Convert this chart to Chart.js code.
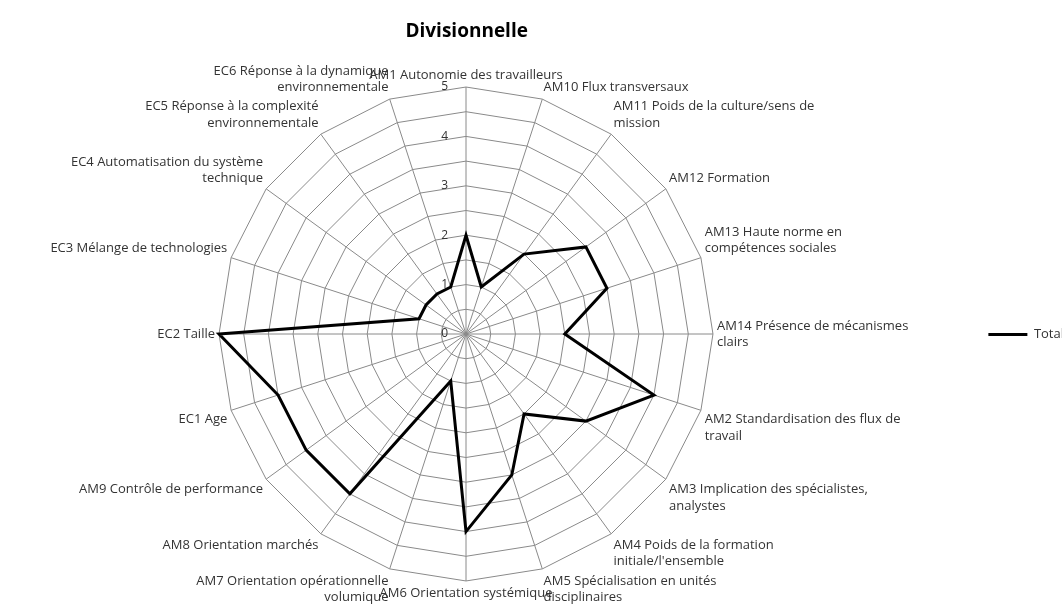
<!DOCTYPE html>
<html>
<head>
<meta charset="utf-8">
<title>Divisionnelle</title>
<script src="https://cdn.jsdelivr.net/npm/chart.js@4"></script>
<style>
    html, body { margin: 0; padding: 0; overflow: hidden; background: #fff; }
    body { width: 1062px; height: 616px; position: relative; }
    /* le canvas déborde un peu à gauche pour laisser de la place aux étiquettes de droite */
    #wrap { position: absolute; left: -38px; top: 0; width: 1112px; height: 616px; }
</style>
</head>
<body>
<div id="wrap"><canvas id="radar"></canvas></div>
<script>
// Axes du radar (sens horaire depuis le haut)
const categories = [
    'AM1 Autonomie des travailleurs',
    'AM10 Flux transversaux',
    ['AM11 Poids de la culture/sens de', 'mission'],
    'AM12 Formation',
    ['AM13 Haute norme en', 'compétences sociales'],
    ['AM14 Présence de mécanismes', 'clairs'],
    ['AM2 Standardisation des flux de', 'travail'],
    ['AM3 Implication des spécialistes,', 'analystes'],
    ['AM4 Poids de la formation', "initiale/l'ensemble"],
    ['AM5 Spécialisation en unités', 'disciplinaires'],
    'AM6 Orientation systémique',
    ['AM7 Orientation opérationnelle', 'volumique'],
    'AM8 Orientation marchés',
    'AM9 Contrôle de performance',
    'EC1 Age',
    'EC2 Taille',
    'EC3 Mélange de technologies',
    ['EC4 Automatisation du système', 'technique'],
    ['EC5 Réponse à la complexité', 'environnementale'],
    ['EC6 Réponse à la dynamique', 'environnementale']
];

const totalValues = [2, 1, 2, 3, 3, 2, 4, 3, 2, 3, 4, 1, 4, 4, 4, 5, 1, 1, 1, 1];

// Graduations affichées le long de l'axe vertical
const tickValues = [0, 1, 2, 3, 4, 5];

const FONT = '"Open Sans", Lato, sans-serif';
Chart.defaults.font.family = FONT;
Chart.defaults.color = '#333';

// Les étiquettes 0..5 sont dessinées à gauche de l'axe vertical, comme dans Excel
const tickLabelPlugin = {
    id: 'tickLabels',
    afterDraw(chart) {
        const scale = chart.scales.r;
        const ctx = chart.ctx;
        ctx.save();
        ctx.font = '12px ' + FONT;
        ctx.fillStyle = '#333';
        ctx.textAlign = 'right';
        ctx.textBaseline = 'middle';
        tickValues.forEach(v => {
            const y = scale.yCenter - scale.getDistanceFromCenterForValue(v);
            ctx.fillText(String(v), scale.xCenter - 18, y);
        });
        ctx.restore();
    }
};

const ctx = document.getElementById('radar');
new Chart(ctx, {
    type: 'radar',
    data: {
        labels: categories,
        datasets: [{
            label: 'Total',
            data: totalValues,
            borderColor: '#000',
            borderWidth: 3,
            fill: false,
            pointRadius: 0,
            pointHoverRadius: 0,
            tension: 0
        }]
    },
    options: {
        responsive: true,
        maintainAspectRatio: false,
        animation: false,
        layout: {
            padding: { top: 10, bottom: 10, left: 0, right: 0 }
        },
        scales: {
            r: {
                min: 0,
                max: 5,
                ticks: { stepSize: 0.5, display: false },
                grid: { color: '#8a8a8a', lineWidth: 1, circular: false },
                angleLines: { color: '#8a8a8a', lineWidth: 1 },
                pointLabels: {
                    font: { size: 13, lineHeight: 1.25 },
                    color: '#333',
                    padding: 4
                }
            }
        },
        plugins: {
            title: {
                display: true,
                fullSize: false,
                text: 'Divisionnelle',
                font: { size: 19, weight: 'bold' },
                color: '#000',
                padding: { top: 10, bottom: 20 }
            },
            legend: {
                position: 'right',
                fullSize: false,
                labels: {
                    usePointStyle: true,
                    pointStyle: 'line',
                    pointStyleWidth: 39,
                    padding: 17,
                    font: { size: 13 },
                    color: '#333'
                }
            },
            tooltip: { enabled: false }
        }
    },
    plugins: [tickLabelPlugin]
});
</script>
</body>
</html>
